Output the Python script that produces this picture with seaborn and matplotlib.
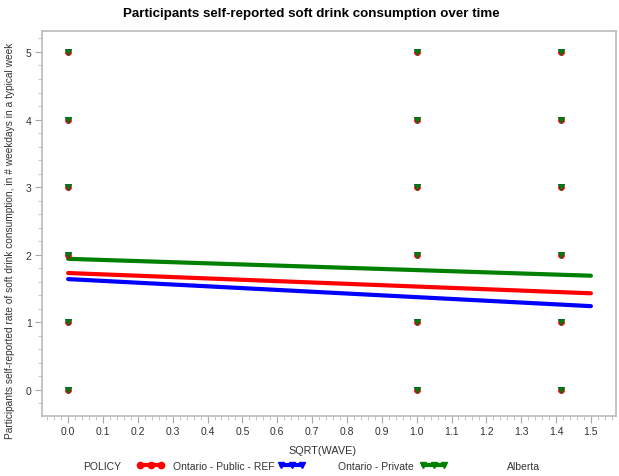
import matplotlib
matplotlib.use("Agg")
import matplotlib.pyplot as plt
from matplotlib.lines import Line2D
from matplotlib.ticker import MultipleLocator
import seaborn as sns
import pandas as pd

sns.set_theme(style="white")
plt.rcParams['font.family'] = ['Liberation Sans', 'DejaVu Sans']

policies = ["Ontario - Public - REF", "Ontario - Private", "Alberta"]
colors = ["#ff0000", "#0000ff", "#008000"]
markers = ["o", "v", "v"]
wave_sqrt = [0.0, 1.0, 1.414]
days = [0, 1, 2, 3, 4, 5]
fit_x = [0.0, 1.5]
fit_red = [1.73, 1.43]
fit_blue = [1.64, 1.24]
fit_green = [1.94, 1.69]
fits = [fit_red, fit_blue, fit_green]

W, H = 619, 477
fig = plt.figure(figsize=(W / 100, H / 100), dpi=100)
ax = fig.add_axes([42 / W, 1 - 417 / H, (616 - 42) / W, (417 - 32) / H])

# points
for pol, col, mk in zip(policies, colors, markers):
    rows = [(w, d) for w in wave_sqrt for d in days]
    df = pd.DataFrame(rows, columns=["x", "y"])
    sns.scatterplot(data=df, x="x", y="y", ax=ax, color=col, marker=mk,
                    s=20, edgecolor=col, linewidth=0.4, zorder=3, legend=False)

# fit lines
for pol, col, fy in zip(policies, colors, fits):
    df = pd.DataFrame({"x": fit_x, "y": fy})
    sns.lineplot(data=df, x="x", y="y", ax=ax, color=col, linewidth=3, zorder=2, legend=False)

ax.set_xlim(-0.075, 1.572)
ax.set_ylim(-0.385, 5.31)
ax.xaxis.set_minor_locator(MultipleLocator(0.02))
ax.yaxis.set_major_locator(MultipleLocator(1))
ax.yaxis.set_minor_locator(MultipleLocator(0.2))
ax.set_xticks([i / 10 for i in range(16)])
ax.set_xticklabels([f"{i/10:.1f}" for i in range(16)])
ax.tick_params(axis="both", which="major", length=5, width=0.8, color="#aaaaaa",
               labelsize=7.5, labelcolor="#333333", direction="out", bottom=True, left=True, pad=2.5)
ax.tick_params(axis="both", which="minor", length=3, width=0.6, color="#bbbbbb",
               direction="out", bottom=True, left=True)
for sp in ax.spines.values():
    sp.set_color("#bbbbbb")
    sp.set_linewidth(1.2)

ax.set_xlabel("SQRT(WAVE)", fontsize=7.8, color="#333333")
ax.xaxis.set_label_coords(0.488, -0.075)
ax.set_ylabel("Participants self-reported rate of soft drink consumption, in # weekdays in a typical week",
              fontsize=7.3, color="#333333")
ax.yaxis.set_label_coords(-0.047, 0.457)

fig.text(311 / W, 1 - 14 / H, "Participants self-reported soft drink consumption over time",
         fontsize=9.6, fontweight="bold", ha="center", va="center", color="#000000")

ly = 1 - 467 / H
fig.text(83 / W, ly, "POLICY", fontsize=7.5, color="#333333", va="center")
handle_x = [137, 278, 420]
label_x = [173, 338, 507]
for c, m, pol, hx, tx in zip(colors, markers, policies, handle_x, label_x):
    h = Line2D([], [], color=c, marker=m, linewidth=3, markersize=4.5, markeredgecolor=c)
    leg = fig.legend([h], [""], loc="center left", bbox_to_anchor=(hx / W, ly),
                     frameon=False, numpoints=3, handlelength=2.6, handletextpad=0,
                     borderpad=0, borderaxespad=0, fontsize=7.5)
    fig.text(tx / W, ly, pol, fontsize=7.5, color="#333333", va="center")

fig.savefig("out.png", dpi=100)
